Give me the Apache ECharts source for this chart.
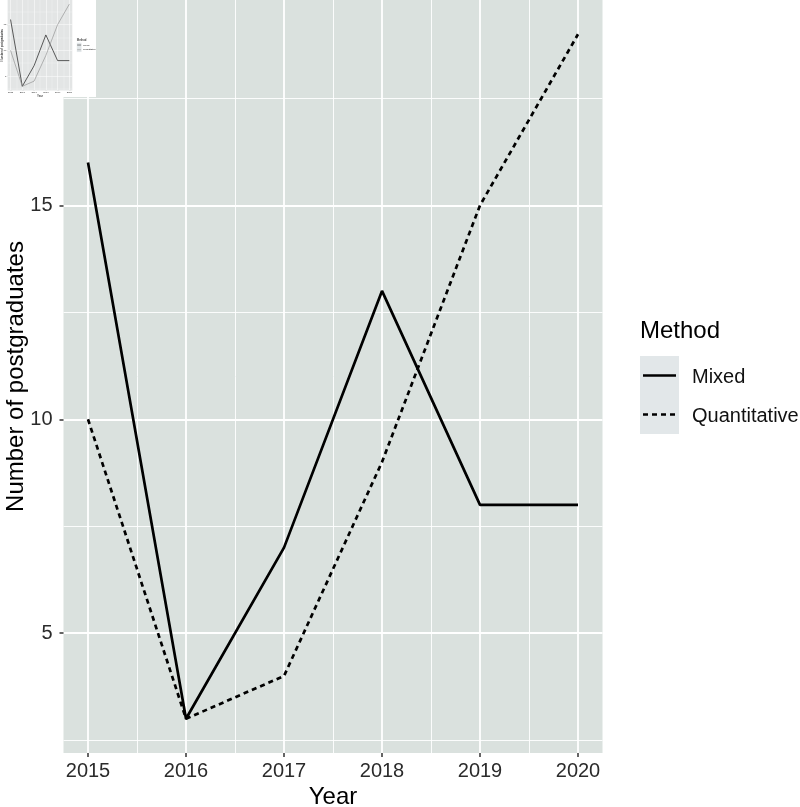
<!DOCTYPE html>
<html>
<head>
<meta charset="utf-8">
<script src="https://cdn.jsdelivr.net/npm/echarts@6/dist/echarts.min.js"></script>
<style>html,body{margin:0;padding:0;background:#fff}#main{width:800px;height:807px}</style>
</head>
<body>
<div id="main"></div>
<script>
// data
var years = [2015, 2016, 2017, 2018, 2019, 2020];
var mixed = [16, 3, 7, 13, 8, 8];
var quantitative = [10, 3, 4, 9, 15, 19];
var yTicks = [5, 10, 15];
var xMinor = [2015.5, 2016.5, 2017.5, 2018.5, 2019.5];
var yMinor = [2.5, 7.5, 12.5, 17.5];
var xRange = [2014.75, 2020.25];
var yRange = [2.2, 19.8];
var methods = ['Mixed', 'Quantitative'];

var FONT = 'Liberation Sans, Arial, Helvetica, sans-serif';
var PANEL = '#dae1de';

function pairs(vals) {
  return years.map(function (y, i) { return [y, vals[i]]; });
}

// white grid lines drawn as markLines so they sit on the real values
function gridLines(major, minor) {
  var d = [];
  years.forEach(function (v) { d.push({ xAxis: v, lineStyle: { width: major } }); });
  xMinor.forEach(function (v) { d.push({ xAxis: v, lineStyle: { width: minor } }); });
  yTicks.forEach(function (v) { d.push({ yAxis: v, lineStyle: { width: major } }); });
  yMinor.forEach(function (v) { d.push({ yAxis: v, lineStyle: { width: minor } }); });
  return d;
}

function axisPair(idx, s, z) {
  // s = scale factor (1 for main chart, small for the thumbnail)
  var x = {
    type: 'value', gridIndex: idx, min: xRange[0], max: xRange[1], z: z,
    axisLine: { show: false },
    splitLine: { show: false },
    axisTick: { show: true, customValues: years, length: 4 * s, lineStyle: { color: '#333', width: 1.5 * s } },
    axisLabel: { customValues: years, fontSize: 20 * s, color: '#2b2b2b', margin: 8 * s, fontFamily: FONT,
      formatter: function (v) { return String(v); } },
    name: 'Year', nameLocation: 'middle', nameGap: 32 * s, nameMoveOverlap: false,
    nameTextStyle: { fontSize: 24 * s, color: '#000', fontFamily: FONT }
  };
  var y = {
    type: 'value', gridIndex: idx, min: yRange[0], max: yRange[1], z: z,
    axisLine: { show: false },
    splitLine: { show: false },
    axisTick: { show: true, customValues: yTicks, length: 4 * s, lineStyle: { color: '#333', width: 1.5 * s } },
    axisLabel: { customValues: yTicks, fontSize: 20 * s, color: '#2b2b2b', margin: 11 * s, fontFamily: FONT },
    name: 'Number of postgraduates', nameLocation: 'middle', nameGap: 35 * s, nameMoveOverlap: false,
    nameTextStyle: { fontSize: 24 * s, color: '#000', fontFamily: FONT }
  };
  return [x, y];
}

// legend keys: grey box, line sample, label
function legendGraphics(x, y, s, z, colors, widths) {
  var key = 39 * s;
  var g = [
    { type: 'rect', left: x, top: y, shape: { width: key, height: key * 2 }, style: { fill: '#e2e7e9' }, z: z },
    { type: 'text', left: x, top: y - 37 * s, style: { text: 'Method', fontSize: 24 * s, fill: '#000', fontFamily: FONT }, z: z }
  ];
  methods.forEach(function (m, i) {
    var cy = y + key * (i + 0.5);
    g.push({
      type: 'line', z: z + 1,
      shape: { x1: x + 3 * s, y1: cy, x2: x + key - 3 * s, y2: cy },
      style: { stroke: colors[i], lineWidth: widths[i], lineDash: (i === 1 && s === 1) ? [5, 4] : null }
    });
    g.push({
      type: 'text', z: z + 1, left: x + 52 * s, top: cy - 8 * s,
      style: { text: m, fontSize: 20 * s, fill: '#111', fontFamily: FONT }
    });
  });
  return g;
}

var myChart = echarts.init(document.getElementById('main'));

var mainAxes = axisPair(0, 1, 2);
var thumbAxes = axisPair(1, 0.12, 12);

var graphics = legendGraphics(640, 356, 1, 3, ['#000', '#000'], [2.7, 2.7])
  .concat([{ type: 'rect', left: 0, top: 0, shape: { width: 96, height: 97 }, style: { fill: '#fff' }, z: 10 }])
  .concat(legendGraphics(76.8, 42.7, 0.12, 13, ['#333', '#888'], [0.6, 0.5]));

var option = {
  animation: false,
  grid: [
    { left: 63.5, top: 0, width: 539, height: 753, outerBoundsMode: 'none', containLabel: false,
      show: true, backgroundColor: PANEL, borderWidth: 0, z: 0 },
    { left: 7.6, top: 0, width: 64.7, height: 90.4, outerBoundsMode: 'none', containLabel: false,
      show: true, backgroundColor: '#e3e5e5', borderWidth: 0, z: 11 }
  ],
  xAxis: [mainAxes[0], thumbAxes[0]],
  yAxis: [mainAxes[1], thumbAxes[1]],
  graphic: graphics,
  series: [
    {
      name: 'grid', type: 'line', data: [], xAxisIndex: 0, yAxisIndex: 0, silent: true, z: 1,
      markLine: { silent: true, symbol: 'none', z: 1, animation: false, label: { show: false },
        lineStyle: { color: '#fff', type: 'solid' }, data: gridLines(1.8, 0.9) }
    },
    {
      name: 'Mixed', type: 'line', data: pairs(mixed), xAxisIndex: 0, yAxisIndex: 0,
      showSymbol: false, symbol: 'none', z: 3,
      lineStyle: { color: '#000', width: 2.7, type: 'solid' }, itemStyle: { color: '#000' }
    },
    {
      name: 'Quantitative', type: 'line', data: pairs(quantitative), xAxisIndex: 0, yAxisIndex: 0,
      showSymbol: false, symbol: 'none', z: 3,
      lineStyle: { color: '#000', width: 2.7, type: [5, 4] }, itemStyle: { color: '#000' }
    },
    {
      name: 'thumbgrid', type: 'line', data: [], xAxisIndex: 1, yAxisIndex: 1, silent: true, z: 12,
      markLine: { silent: true, symbol: 'none', z: 12, animation: false, label: { show: false },
        lineStyle: { color: '#fff', type: 'solid' }, data: gridLines(0.5, 0.25) }
    },
    {
      name: 'Mixed (inset)', type: 'line', data: pairs(mixed), xAxisIndex: 1, yAxisIndex: 1,
      showSymbol: false, symbol: 'none', z: 13,
      lineStyle: { color: '#333', width: 0.8 }
    },
    {
      name: 'Quantitative (inset)', type: 'line', data: pairs(quantitative), xAxisIndex: 1, yAxisIndex: 1,
      showSymbol: false, symbol: 'none', z: 13,
      lineStyle: { color: '#888', width: 0.6 }
    }
  ]
};
myChart.setOption(option);
</script>
</body>
</html>
